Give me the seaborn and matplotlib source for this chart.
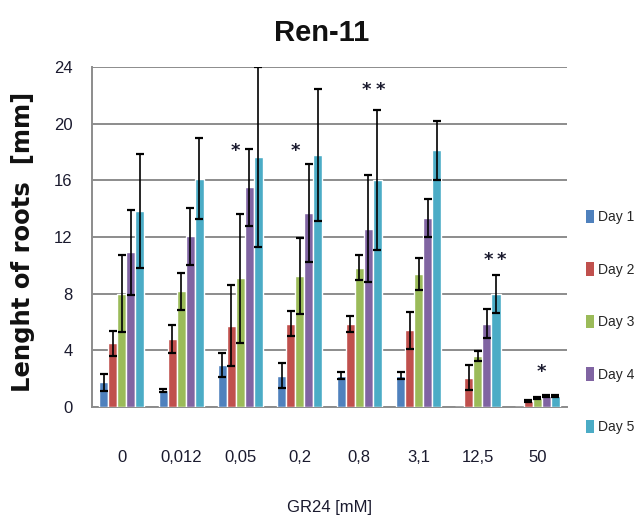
import numpy as np
import pandas as pd
import matplotlib
matplotlib.use("Agg")
import matplotlib.pyplot as plt
from matplotlib.patches import Patch
import seaborn as sns

concentrations = ["0", "0,012", "0,05", "0,2", "0,8", "3,1", "12,5", "50"]
days = ["Day 1", "Day 2", "Day 3", "Day 4", "Day 5"]

day1 = [1.76, 1.18, 2.99, 2.21, 2.21, 2.21, 0.0, 0.0]
day2 = [4.49, 4.82, 5.74, 5.88, 5.88, 5.41, 2.07, 0.42]
day3 = [8.00, 8.16, 9.08, 9.25, 9.84, 9.39, 3.60, 0.66]
day4 = [10.94, 12.05, 15.50, 13.67, 12.59, 13.34, 5.88, 0.80]
day5 = [13.84, 16.12, 17.65, 17.79, 16.00, 18.12, 8.00, 0.78]

err1 = [0.60, 0.10, 0.85, 0.87, 0.26, 0.26, 0.0, 0.0]
err2 = [0.87, 1.00, 2.85, 0.87, 0.56, 1.30, 0.87, 0.08]
err3 = [2.70, 1.30, 4.55, 2.70, 0.90, 1.15, 0.38, 0.08]
err4 = [3.00, 2.00, 2.70, 3.46, 3.80, 1.34, 1.04, 0.08]
err5 = [4.05, 2.85, 6.33, 4.68, 4.94, 2.07, 1.34, 0.08]

star_conc = ["0,05", "0,2", "0,8", "0,8", "12,5", "12,5", "50"]
star_shift = [-0.08, -0.08, 0.12, 0.35, 0.17, 0.40, 0.06]
star_y = [18.1, 18.1, 22.4, 22.4, 10.4, 10.4, 2.5]

colors = ["#4F81BD", "#C0504D", "#9BBB59", "#8064A2", "#4BACC6"]
yticks = [0, 4, 8, 12, 16, 20, 24]

title = "Ren-11"
xlabel = "GR24 [mM]"
ylabel = "Lenght of roots  [mm]"

values = [day1, day2, day3, day4, day5]
errors = [err1, err2, err3, err4, err5]
rows = []
for d, vals in zip(days, values):
    for c, v in zip(concentrations, vals):
        rows.append({"conc": c, "day": d, "value": v})
df = pd.DataFrame(rows)

sns.set_theme(style="white")
plt.rcParams["font.family"] = ["Liberation Sans", "DejaVu Sans"]

fig = plt.figure(figsize=(6.38, 5.22), dpi=100)
ax = fig.add_axes([92 / 638, 1 - 407 / 522, 475 / 638, 340 / 522])

sns.barplot(data=df, x="conc", y="value", hue="day", order=concentrations,
            hue_order=days, palette=colors, width=0.76, errorbar=None,
            saturation=1, legend=False, ax=ax, zorder=3)

for container, errs in zip(ax.containers, errors):
    xs = [p.get_x() + p.get_width() / 2 for p in container.patches]
    hs = [p.get_height() for p in container.patches]
    xe, he, ee = [], [], []
    for x, h, e in zip(xs, hs, errs):
        if h > 0:
            xe.append(x); he.append(h); ee.append(e)
    ax.errorbar(xe, he, yerr=ee, fmt="none", ecolor="black", elinewidth=1.2,
                capsize=3.2, capthick=1.6, zorder=4, clip_on=True)

for c, s, y in zip(star_conc, star_shift, star_y):
    xi = concentrations.index(c) + s
    ax.text(xi, y, "*", ha="center", va="center", fontsize=13,
            fontweight="bold", color="#1a1a2e", zorder=5,
            family=["DejaVu Sans"])

ax.set_ylim(0, 24)
ax.set_xlim(-0.5, len(concentrations) - 0.5)
ax.set_yticks(yticks)
ax.set_yticklabels([str(t) for t in yticks])
ax.yaxis.grid(True, color="#8c8c8c", linewidth=1.4, zorder=0)
ax.xaxis.grid(False)
ax.set_axisbelow(True)
for side in ["top", "right"]:
    ax.spines[side].set_visible(False)
for side in ["left", "bottom"]:
    ax.spines[side].set_color("#8c8c8c")
    ax.spines[side].set_linewidth(1.4)
ax.tick_params(axis="x", length=0, pad=31, labelsize=12, labelcolor="#1a1a2e")
ax.tick_params(axis="y", length=0, pad=14, labelsize=12, labelcolor="#1a1a2e")
ax.set_xlabel(xlabel, fontsize=12, labelpad=25, color="#1a1a2e")
ax.set_ylabel("")

fig.text(322 / 638, 1 - 33 / 522, title, ha="center", va="center",
         fontsize=21, fontweight="bold", color="#111111")
fig.text(23 / 638, 1 - 242 / 522, ylabel, rotation=90, ha="center",
         va="center", fontsize=17.5, fontweight="bold", color="#111111",
         family=["DejaVu Sans"])

handles = [Patch(facecolor=c, edgecolor="none") for c in colors]
fig.legend(handles, days, loc="center left",
           bbox_to_anchor=(586 / 638, 1 - 322 / 522), frameon=False,
           fontsize=10, handlelength=0.6, handleheight=1.1,
           handletextpad=0.3, labelspacing=2.75, borderpad=0,
           borderaxespad=0)

fig.savefig("out.png", dpi=100)
